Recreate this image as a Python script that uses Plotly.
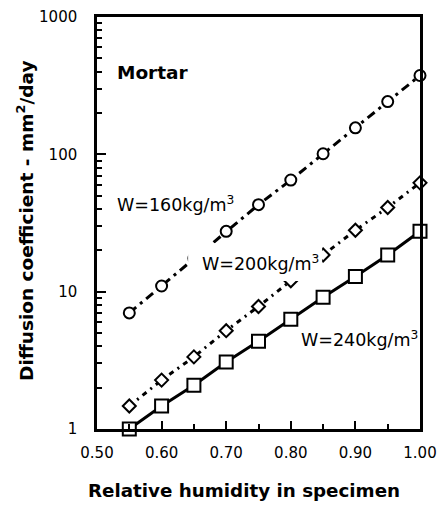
import plotly.graph_objects as go

rh = [0.55, 0.60, 0.65, 0.70, 0.75, 0.80, 0.85, 0.90, 0.95, 1.00]
d_w160 = [7.0, 11.0, 17.5, 27.5, 43, 65, 101, 156, 242, 375]
d_w200 = [1.47, 2.27, 3.35, 5.2, 7.8, 12.0, 18.5, 28, 41, 62]
d_w240 = [1.0, 1.47, 2.08, 3.07, 4.36, 6.3, 9.1, 12.9, 18.5, 27.5]

y_ticks = [1, 10, 100, 1000]
y_minor = [v * m for m in (1, 10, 100) for v in range(2, 10)]
x_ticks = [0.5, 0.6, 0.7, 0.8, 0.9, 1.0]
x_minor = [0.55, 0.65, 0.75, 0.85, 0.95]

FONT = "DejaVu Sans, Liberation Sans, Arial, sans-serif"

fig = go.Figure()
fig.add_trace(go.Scatter(
    x=rh, y=d_w160, mode="lines+markers",
    line=dict(color="black", width=3, dash="9px,5px,3px,5px"),
    marker=dict(symbol="circle", size=11, color="white", line=dict(color="black", width=2)),
    cliponaxis=False, showlegend=False))
fig.add_trace(go.Scatter(
    x=rh, y=d_w200, mode="lines+markers",
    line=dict(color="black", width=3, dash="5px,5px,2px,5px"),
    marker=dict(symbol="diamond", size=10, color="white", line=dict(color="black", width=2)),
    cliponaxis=False, showlegend=False))
fig.add_trace(go.Scatter(
    x=rh, y=d_w240, mode="lines+markers",
    line=dict(color="black", width=3),
    marker=dict(symbol="square", size=13, color="white", line=dict(color="black", width=2)),
    cliponaxis=False, showlegend=False))

# white backing behind the W=200 label (covers the lines as in the original)
fig.add_shape(type="rect", xref="paper", yref="paper", layer="above",
              x0=0.282, x1=0.697, y0=0.359, y1=0.451,
              fillcolor="white", line=dict(width=0))

ann_font = dict(family=FONT, size=17.5, color="black")
fig.add_annotation(x=0.055, y=0.866, xref="paper", yref="paper", xanchor="left", yanchor="middle",
                   text="<b>Mortar</b>", showarrow=False, font=dict(family=FONT, size=18.5, color="black"))
fig.add_annotation(x=0.055, y=0.546, xref="paper", yref="paper", xanchor="left", yanchor="middle",
                   text="W=160kg/m<sup>3</sup>", showarrow=False, font=ann_font)
fig.add_annotation(x=0.318, y=0.403, xref="paper", yref="paper", xanchor="left", yanchor="middle",
                   text="W=200kg/m<sup>3</sup>", showarrow=False, font=ann_font)
fig.add_annotation(x=0.625, y=0.218, xref="paper", yref="paper", xanchor="left", yanchor="middle",
                   text="W=240kg/m<sup>3</sup>", showarrow=False, font=ann_font)

fig.add_annotation(x=0.455, y=-0.150, xref="paper", yref="paper", xanchor="center", yanchor="middle",
                   text="<b>Relative humidity in specimen</b>", showarrow=False,
                   font=dict(family=FONT, size=18.3, color="black"))
fig.add_annotation(x=-0.223, y=0.505, xref="paper", yref="paper", xanchor="center", yanchor="middle",
                   text="<b>Diffusion coefficient - mm<sup>2</sup>/day</b>", showarrow=False, textangle=-90,
                   font=dict(family=FONT, size=18.5, color="black"))

fig.update_layout(
    width=440, height=513,
    margin=dict(l=97, r=20, t=17, b=84),
    paper_bgcolor="white", plot_bgcolor="white",
    font=dict(family=FONT, color="black"),
    xaxis=dict(
        range=[0.5, 1.0], tickvals=x_ticks, ticktext=[f"{v:.2f}" for v in x_ticks],
        ticks="inside", ticklen=8, tickwidth=2, tickcolor="black",
        minor=dict(tickvals=x_minor, ticks="inside", ticklen=5, tickwidth=2, tickcolor="black"),
        showline=True, linecolor="black", linewidth=2.5, mirror=True,
        showgrid=False, zeroline=False, tickfont=dict(size=15),
        ticklabelstandoff=8, automargin=False,
    ),
    yaxis=dict(
        type="log", range=[0, 3], tickvals=y_ticks, ticktext=[str(v) for v in y_ticks],
        ticks="inside", ticklen=9, tickwidth=2, tickcolor="black",
        minor=dict(tickvals=y_minor, ticks="inside", ticklen=5, tickwidth=1.5, tickcolor="black"),
        showline=True, linecolor="black", linewidth=2.5, mirror=True,
        showgrid=False, zeroline=False, tickfont=dict(size=15),
        ticklabelstandoff=14, automargin=False,
    ),
)
fig.write_html("out.html", config={"displayModeBar": False},
               post_script="document.body.style.margin='0';")
